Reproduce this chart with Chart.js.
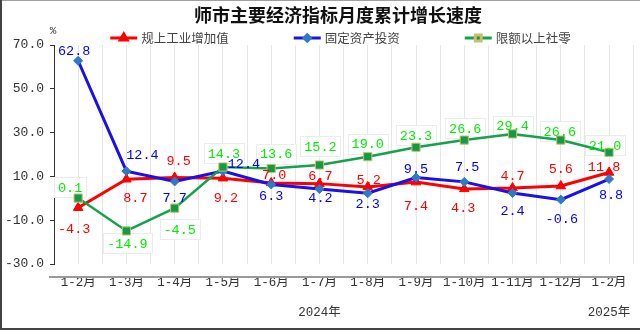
<!DOCTYPE html>
<html>
<head>
<meta charset="utf-8">
<script src="https://cdn.jsdelivr.net/npm/chart.js@4/dist/chart.umd.min.js"></script>
<style>
  html, body { margin: 0; padding: 0; background: #fff; }
  #wrap { width: 640px; height: 330px; position: relative; }
</style>
</head>
<body>
<div id="wrap"><canvas id="c" width="640" height="330"></canvas></div>
<script>
// Month-to-date cumulative growth (%)
const months = ['1-2月', '1-3月', '1-4月', '1-5月', '1-6月', '1-7月', '1-8月', '1-9月', '1-10月', '1-11月', '1-12月', '1-2月'];
const yearNames = ['2024年', '2025年'];
const yearOfMonth = [0, 0, 0, 0, 0, 0, 0, 0, 0, 0, 0, 1];
const seriesNames = ['规上工业增加值', '固定资产投资', '限额以上社零'];
const industry = [-4.3, 8.7, 9.5, 9.2, 7.0, 6.7, 5.2, 7.4, 4.3, 4.7, 5.6, 11.8];
const investment = [62.8, 12.4, 7.7, 12.4, 6.3, 4.2, 2.3, 9.5, 7.5, 2.4, -0.6, 8.8];
const retail = [0.1, -14.9, -4.5, 14.3, 13.6, 15.2, 19.0, 23.3, 26.6, 29.4, 26.6, 21.0];
const yMin = -30, yMax = 70, yStep = 20;

// value-label nudges (px) so labels don't collide
const labelNudge = [
  [[-4, 21], [9, 18], [4, -17], [3, 19], [3, -9], [1, -8], [1, -7], [0, 23], [-1, 19], [0, -13], [0, -18], [-5, -6]],
  [[-4, -10], [16, -17], [0, 16], [21, -8], [0, 11], [1, 8], [0, 10], [0, -9], [3, -15], [0, 17], [1, 19], [2, 15]],
  [[-8, -11], [1, 12], [5, 21], [1, -14], [5, -15], [1, -19], [0, -13], [0, -12], [1, -12], [0, -8], [-1, -9], [-4, -7]]
];

const NUM_FONT = "'Liberation Mono', 'Noto Sans CJK SC', monospace";
const CJK_FONT = "'Noto Sans CJK SC', sans-serif";
const LABEL_FONT = "13.5px " + NUM_FONT;

// year group centres on the month index scale
const yearCentres = yearNames.map((_, y) => {
  const idx = yearOfMonth.map((v, i) => v === y ? i : -1).filter(i => i >= 0);
  return (idx[0] + idx[idx.length - 1]) / 2;
});

const frame = {
  id: 'frame',
  beforeDraw(chart) {
    const ctx = chart.ctx;
    ctx.save();
    ctx.fillStyle = '#fff';
    ctx.fillRect(0, 0, chart.width, chart.height);
    ctx.strokeStyle = '#a0a0a0';
    ctx.lineWidth = 1;
    ctx.beginPath(); ctx.moveTo(0, 0.5); ctx.lineTo(chart.width, 0.5); ctx.stroke();
    ctx.strokeStyle = '#444';
    ctx.lineWidth = 2;
    ctx.beginPath(); ctx.moveTo(1, 0); ctx.lineTo(1, chart.height); ctx.stroke();
    ctx.beginPath(); ctx.moveTo(0, chart.height - 1); ctx.lineTo(chart.width, chart.height - 1); ctx.stroke();
    ctx.restore();
  },
  afterDraw(chart) {
    const ctx = chart.ctx;
    const area = chart.chartArea;
    ctx.save();
    // category baseline
    ctx.strokeStyle = '#9a9a9a';
    ctx.lineWidth = 2;
    ctx.beginPath();
    ctx.moveTo(area.left - 5, area.bottom + 13);
    ctx.lineTo(area.right - 17, area.bottom + 13);
    ctx.stroke();
    // title
    ctx.fillStyle = '#111';
    ctx.font = "bold 18px " + CJK_FONT;
    ctx.textAlign = 'center';
    ctx.textBaseline = 'middle';
    ctx.fillText('师市主要经济指标月度累计增长速度', 338, 15);
    // unit
    ctx.font = "11px " + NUM_FONT;
    ctx.fillStyle = '#333';
    ctx.fillText('%', area.left - 1, 31);
    // legend
    ctx.font = "12.5px " + CJK_FONT;
    const lineLen = 27, gap = 65, textGap = 4;
    const widths = chart.data.datasets.map(ds => lineLen + textGap + ctx.measureText(ds.label).width);
    const total = widths.reduce((a, b) => a + b, 0) + gap * (widths.length - 1);
    let x = 340.5 - total / 2;
    const y = 38;
    chart.data.datasets.forEach((ds, i) => {
      ctx.strokeStyle = ds.borderColor;
      ctx.lineWidth = 3;
      ctx.beginPath(); ctx.moveTo(x, y); ctx.lineTo(x + lineLen, y); ctx.stroke();
      ctx.fillStyle = ds.pointBackgroundColor;
      ctx.strokeStyle = ds.pointBorderColor;
      Chart.helpers.drawPoint(ctx, {
        pointStyle: ds.pointStyle, radius: ds.pointRadius * 0.72, rotation: 0, borderWidth: ds.pointBorderWidth
      }, x + lineLen / 2, y);
      ctx.fillStyle = '#444';
      ctx.textAlign = 'left';
      ctx.textBaseline = 'middle';
      ctx.fillText(ds.label, x + lineLen + textGap, y);
      x += widths[i] + gap;
    });
    ctx.restore();
  }
};

function labelPos(chart, di, i) {
  const pt = chart.getDatasetMeta(di).data[i];
  const [dx, dy] = labelNudge[di][i];
  return [pt.x + dx, pt.y + dy];
}

const valueLabels = {
  id: 'valueLabels',
  // boxes sit under the lines, text on top
  beforeDatasetsDraw(chart) {
    const ctx = chart.ctx;
    ctx.save();
    ctx.font = LABEL_FONT;
    chart.data.datasets.forEach((ds, di) => {
      if (!ds.labelBox) return;
      ds.data.forEach((v, i) => {
        const [cx, cy] = labelPos(chart, di, i);
        const w = Math.round(ctx.measureText(v.toFixed(1)).width + 8);
        const h = 20;
        const x0 = Math.round(cx - w / 2) + 0.5, y0 = Math.round(cy - h / 2) + 0.5;
        ctx.fillStyle = '#fff';
        ctx.fillRect(x0, y0, w, h);
        ctx.strokeStyle = '#ececec';
        ctx.lineWidth = 1;
        ctx.strokeRect(x0, y0, w, h);
      });
    });
    ctx.restore();
  },
  afterDatasetsDraw(chart) {
    const ctx = chart.ctx;
    ctx.save();
    ctx.font = LABEL_FONT;
    ctx.textAlign = 'center';
    ctx.textBaseline = 'middle';
    chart.data.datasets.forEach((ds, di) => {
      ds.data.forEach((v, i) => {
        const [cx, cy] = labelPos(chart, di, i);
        ctx.fillStyle = ds.labelColor;
        ctx.fillText(v.toFixed(1), cx, cy + 1);
      });
    });
    ctx.restore();
  }
};

new Chart(document.getElementById('c'), {
  type: 'line',
  data: {
    labels: months,
    datasets: [
      {
        label: seriesNames[0], data: industry,
        borderColor: '#ff0000', borderWidth: 3,
        pointStyle: 'triangle', pointRadius: 5.5, pointBorderWidth: 1,
        pointBackgroundColor: '#ff0000', pointBorderColor: '#ff0000',
        labelColor: '#ff0000', order: 3
      },
      {
        label: seriesNames[1], data: investment,
        borderColor: '#1a10e8', borderWidth: 3,
        pointStyle: 'rectRot', pointRadius: 4.5, pointBorderWidth: 1,
        pointBackgroundColor: '#2f7ac8', pointBorderColor: '#2f7ac8',
        labelColor: '#0000ff', order: 2
      },
      {
        label: seriesNames[2], data: retail,
        borderColor: '#14a24c', borderWidth: 2.5,
        pointStyle: 'rect', pointRadius: 5.8, pointBorderWidth: 1,
        pointBackgroundColor: '#139a45', pointBorderColor: '#c8c070',
        labelColor: '#00ee00', labelBox: true, order: 1
      }
    ]
  },
  options: {
    responsive: false,
    animation: false,
    layout: { padding: { top: 45, right: 2, left: 0, bottom: 0 } },
    plugins: { legend: { display: false }, title: { display: false }, tooltip: { enabled: false } },
    elements: { line: { tension: 0 } },
    scales: {
      x: {
        type: 'category', offset: true, weight: 0,
        grid: { display: false }, border: { display: false },
        ticks: { color: '#333', font: { family: NUM_FONT, size: 12.5 }, padding: 3, maxRotation: 0, autoSkip: false },
        afterFit(s) { s.height = 27; }
      },
      years: {
        type: 'linear', position: 'bottom', min: -0.5, max: 11.5, weight: 1,
        grid: { display: false }, border: { display: false },
        afterBuildTicks(s) { s.ticks = yearCentres.map(v => ({ value: v })); },
        ticks: { color: '#333', font: { family: NUM_FONT, size: 12.5 }, padding: 6, autoSkip: false, maxRotation: 0,
                 callback: (v, i) => yearNames[i] },
        afterFit(s) { s.height = 39; }
      },
      grid2: {
        type: 'linear', position: 'top', min: -0.5, max: 11.5,
        grid: { color: '#e6e6e6', lineWidth: 1, drawTicks: false },
        border: { display: false },
        ticks: { display: false, stepSize: 0.5 },
        afterFit(s) { s.height = 0; }
      },
      y: {
        min: yMin, max: yMax,
        grid: { drawOnChartArea: false, drawTicks: true, tickLength: 4, color: '#333' },
        border: { display: true, color: '#333', width: 1 },
        ticks: { stepSize: yStep, color: '#333', padding: 6, font: { family: NUM_FONT, size: 13 },
                 callback: v => v.toFixed(1) },
        afterFit(s) { s.width = 54; }
      }
    }
  },
  plugins: [frame, valueLabels]
});
</script>
</body>
</html>
